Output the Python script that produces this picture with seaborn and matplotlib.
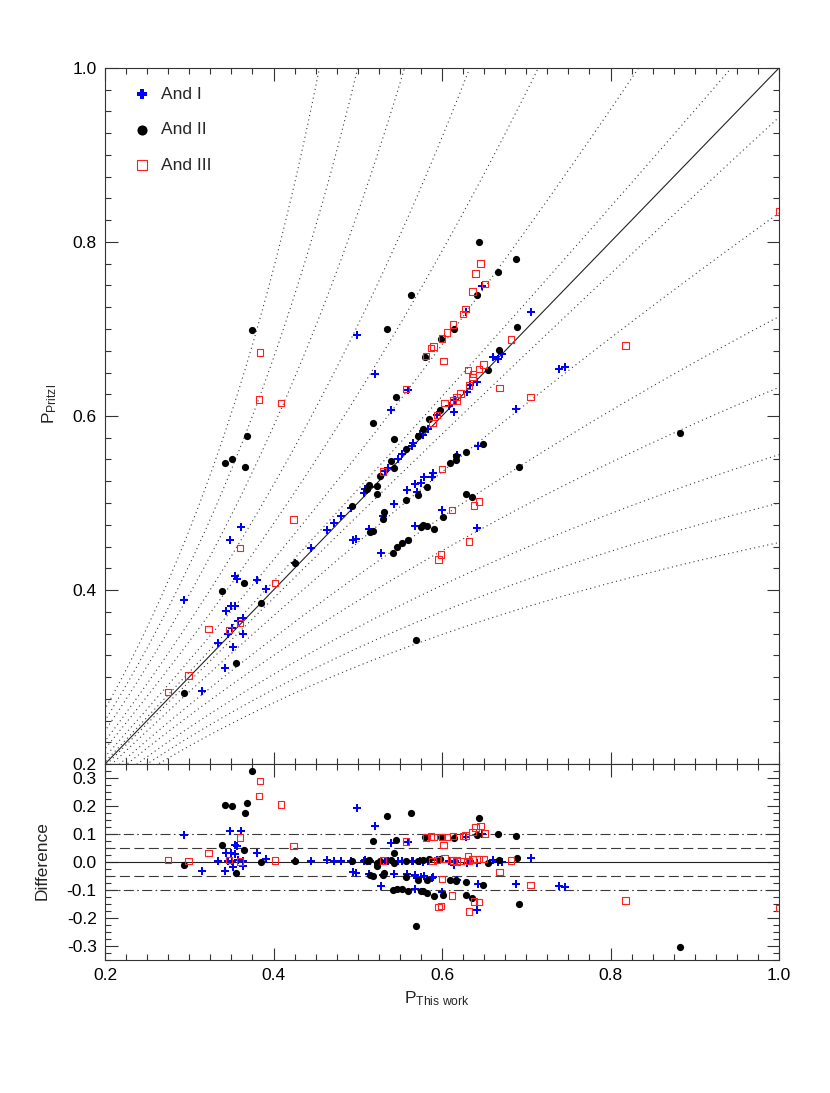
import numpy as np
import pandas as pd
import matplotlib
matplotlib.use("Agg")
import matplotlib.pyplot as plt
import seaborn as sns
from matplotlib.ticker import MultipleLocator, FormatStrFormatter

# ---------------- data (periods in days) ----------------
andI_x = [0.294, 0.315, 0.334, 0.343, 0.344, 0.346, 0.350, 0.354, 0.351, 0.352, 0.358, 0.364, 0.364,
          0.354, 0.357, 0.381, 0.391, 0.348, 0.361, 0.426, 0.445,
          0.463, 0.472, 0.480, 0.492, 0.507, 0.509, 0.515, 0.532, 0.536, 0.548, 0.553, 0.564, 0.566,
          0.574, 0.578, 0.583, 0.594, 0.608, 0.614, 0.616, 0.630, 0.633, 0.641, 0.661, 0.666, 0.671, 0.706,
          0.648, 0.628, 0.499, 0.520, 0.560, 0.540, 0.739, 0.746, 0.688, 0.643, 0.618, 0.589, 0.588,
          0.579, 0.575, 0.568, 0.570, 0.559, 0.543, 0.530, 0.513, 0.494, 0.498, 0.528, 0.568, 0.600, 0.642]
andI_y = [0.389, 0.284, 0.339, 0.310, 0.376, 0.349, 0.382, 0.382, 0.356, 0.335, 0.364, 0.368, 0.350,
          0.416, 0.413, 0.412, 0.401, 0.457, 0.472, 0.431, 0.448,
          0.469, 0.477, 0.485, 0.494, 0.511, 0.516, 0.518, 0.537, 0.540, 0.550, 0.556, 0.566, 0.569,
          0.579, 0.578, 0.585, 0.601, 0.612, 0.605, 0.618, 0.628, 0.636, 0.639, 0.668, 0.666, 0.671, 0.719,
          0.749, 0.719, 0.693, 0.648, 0.630, 0.607, 0.654, 0.656, 0.608, 0.566, 0.555, 0.534, 0.530,
          0.530, 0.523, 0.522, 0.513, 0.515, 0.499, 0.485, 0.470, 0.458, 0.459, 0.442, 0.473, 0.492, 0.471]

andII_x = [0.294, 0.356, 0.339, 0.365, 0.385, 0.426, 0.342, 0.351, 0.366, 0.368, 0.375, 0.493,
           0.511, 0.513, 0.523, 0.523, 0.526, 0.540, 0.543, 0.557, 0.543, 0.572, 0.578, 0.585, 0.598,
           0.655, 0.668, 0.689,
           0.518, 0.545, 0.535, 0.563, 0.580, 0.599, 0.614, 0.642, 0.666, 0.644, 0.688,
           0.557, 0.572, 0.582, 0.531, 0.530, 0.515, 0.518, 0.542, 0.547, 0.552, 0.560, 0.575, 0.578,
           0.582, 0.590, 0.601, 0.610, 0.617, 0.617, 0.629, 0.649, 0.691, 0.628, 0.636, 0.882, 0.569]
andII_y = [0.282, 0.316, 0.399, 0.408, 0.385, 0.431, 0.546, 0.551, 0.541, 0.577, 0.699, 0.497,
           0.516, 0.521, 0.520, 0.510, 0.531, 0.548, 0.540, 0.562, 0.574, 0.577, 0.585, 0.597, 0.607,
           0.653, 0.676, 0.702,
           0.592, 0.622, 0.700, 0.739, 0.668, 0.688, 0.700, 0.739, 0.766, 0.800, 0.781,
           0.503, 0.509, 0.518, 0.490, 0.482, 0.467, 0.468, 0.443, 0.450, 0.454, 0.457, 0.472, 0.475,
           0.473, 0.470, 0.484, 0.546, 0.549, 0.554, 0.559, 0.568, 0.541, 0.510, 0.507, 0.580, 0.342]

andIII_x = [0.275, 0.299, 0.323, 0.347, 0.360, 0.360, 0.402, 0.424, 0.384, 0.383, 0.409,
            0.530, 0.557, 0.600, 0.612, 0.644, 0.638, 0.632, 0.599, 0.596,
            0.589, 0.594, 0.603, 0.613, 0.617, 0.617, 0.622, 0.632, 0.636, 0.631, 0.637, 0.644, 0.649,
            0.668, 0.705, 0.682, 0.818, 1.000, 0.602,
            0.581, 0.587, 0.590, 0.600, 0.606, 0.613, 0.625, 0.628, 0.636, 0.651, 0.640, 0.646]
andIII_y = [0.283, 0.302, 0.355, 0.354, 0.362, 0.448, 0.408, 0.481, 0.673, 0.619, 0.615,
            0.536, 0.631, 0.539, 0.492, 0.502, 0.497, 0.456, 0.441, 0.435,
            0.592, 0.601, 0.615, 0.618, 0.618, 0.622, 0.626, 0.635, 0.645, 0.653, 0.648, 0.654, 0.659,
            0.632, 0.622, 0.688, 0.681, 0.835, 0.663,
            0.669, 0.678, 0.680, 0.689, 0.696, 0.705, 0.717, 0.723, 0.743, 0.752, 0.764, 0.775]

# alias frequency offsets (cycles/day) of the dotted guide curves: 1/P' = 1/P +- c
alias_offsets = [0.06, 0.2, 0.4, 0.58, 0.8, 1.0, 1.2]

groups = ["And I", "And II", "And III"]
series = {
    "And I": (andI_x, andI_y),
    "And II": (andII_x, andII_y),
    "And III": (andIII_x, andIII_y),
}

# ---------------- style ----------------
sns.set_style("ticks")
plt.rcParams['font.family'] = ['Liberation Sans', 'DejaVu Sans']
plt.rcParams['mathtext.fontset'] = 'custom'
plt.rcParams['mathtext.rm'] = 'Liberation Sans'
plt.rcParams['mathtext.it'] = 'Liberation Sans'
plt.rcParams['axes.unicode_minus'] = False

FS = 12.5
W, H = 830, 1093
fig = plt.figure(figsize=(W / 100, H / 100), dpi=100)
ax1 = fig.add_axes([105 / W, 1 - 764 / H, 674 / W, 696 / H])
ax2 = fig.add_axes([105 / W, 1 - 960 / H, 674 / W, 196 / H])

line_col = '#3a3a3a'
dot_style = (0, (1, 3))

# guide curves
for c in alias_offsets:
    xl = np.linspace(0.15, 1.0, 400)
    ax1.plot(xl, xl / (1 + c * xl), ls=dot_style, color=line_col, lw=0.8, zorder=1)
    xu = np.linspace(0.15, min(1.0, 1 / (1 + c) + 0.02), 400)
    ax1.plot(xu, xu / (1 - c * xu), ls=dot_style, color=line_col, lw=0.8, zorder=1)
ax1.plot([0.2, 1.0], [0.2, 1.0], color='#222222', lw=0.8, zorder=1)

styles = {
    "And I": dict(marker='P', s=26, color='#0000ff', edgecolor='#0000ff', linewidth=0),
    "And II": dict(marker='o', s=27, color='black', edgecolor='black', linewidth=0),
    "And III": dict(marker='s', s=22, facecolor='none', edgecolor='#ff2020', linewidth=0.8),
}

for g in groups:
    xs, ys = series[g]
    df = pd.DataFrame({"P_this": xs, "P_pritzl": ys})
    df["diff"] = df["P_pritzl"] - df["P_this"]
    sns.scatterplot(data=df, x="P_this", y="P_pritzl", ax=ax1, label=g, zorder=3, **styles[g])
    sns.scatterplot(data=df, x="P_this", y="diff", ax=ax2, legend=False, zorder=3, **styles[g])

# bottom panel reference lines
ax2.axhline(0.0, color='#222222', lw=0.8, zorder=1)
for v in (0.05, -0.05):
    ax2.axhline(v, color=line_col, lw=0.8, ls=(0, (9, 4)), zorder=1)
for v in (0.1, -0.1):
    ax2.axhline(v, color=line_col, lw=0.8, ls=(0, (9, 3, 1.5, 3)), zorder=1)

# axes
ax1.set_xlim(0.2, 1.0)
ax1.set_ylim(0.2, 1.0)
ax2.set_xlim(0.2, 1.0)
ax2.set_ylim(-0.35, 0.35)

for ax in (ax1, ax2):
    ax.xaxis.set_major_locator(MultipleLocator(0.2))
    ax.xaxis.set_minor_locator(MultipleLocator(0.025))
    ax.xaxis.set_major_formatter(FormatStrFormatter('%.1f'))
    ax.yaxis.set_major_formatter(FormatStrFormatter('%.1f'))
    ax.tick_params(which='both', direction='in', top=True, right=True,
                   labelsize=FS, width=0.8, colors='#333333', labelcolor='black')
    ax.tick_params(which='major', length=9, pad=6)
    ax.tick_params(which='minor', length=4.5)
    for sp in ax.spines.values():
        sp.set_linewidth(0.8)
        sp.set_color('#333333')
ax1.yaxis.set_major_locator(MultipleLocator(0.2))
ax1.yaxis.set_minor_locator(MultipleLocator(0.025))
ax2.yaxis.set_major_locator(MultipleLocator(0.1))
ax2.yaxis.set_minor_locator(MultipleLocator(0.025))
ax1.tick_params(labelbottom=False)

ax1.set_xlabel("")
ax1.set_ylabel(r'$\mathregular{P_{Pritzl}}$', fontsize=FS)
ax1.yaxis.set_label_coords(-0.068, 0.517)
ax2.set_ylabel("Difference", fontsize=FS)
ax2.yaxis.set_label_coords(-0.082, 0.505)
ax2.set_xlabel(r'$\mathregular{P_{This\ work}}$', fontsize=FS)
ax2.xaxis.set_label_coords(0.492, -0.15)

leg = ax1.legend(loc='upper left', bbox_to_anchor=(0.042, 0.973), frameon=False,
                 markerscale=1.4, handlelength=1.0, handletextpad=0.6,
                 labelspacing=1.16, fontsize=FS, borderaxespad=0, borderpad=0)

fig.savefig("out.png", dpi=100)
